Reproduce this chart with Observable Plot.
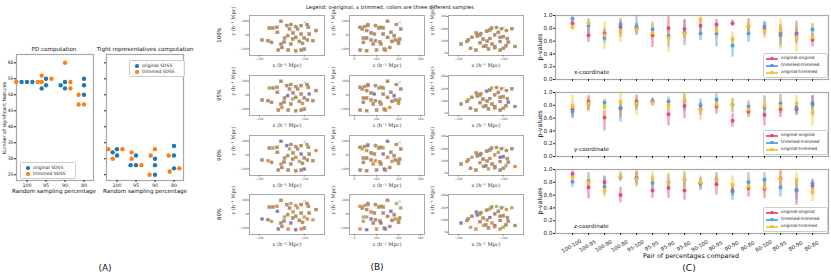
<!DOCTYPE html>
<html><head><meta charset="utf-8">
<script src="https://cdn.jsdelivr.net/npm/d3@7"></script>
<script src="https://cdn.jsdelivr.net/npm/@observablehq/plot@0.6"></script>
<style>
html,body{margin:0;padding:0;background:#fff;}
#root{position:relative;width:831px;height:278px;overflow:hidden;font-family:"DejaVu Sans",sans-serif;}
svg{overflow:visible;}
</style></head><body><div id="root"></div>
<script>
// ---------- Panel A data ----------
const pctCategories = ["100", "95", "90", "80"];
const pdOriginalPct = ["100","100","100","95","95","95","90","90","90","80","80","80"];
const pdOriginal    = [54, 54, 54, 55, 53, 52, 54, 52, 53, 55, 53, 50];
const pdTrimmedPct  = ["100","100","95","95","95","90","90","90","80","80","80"];
const pdTrimmed     = [54, 54, 56, 54, 55, 60, 54, 52, 50, 47, 47];
const tightOriginalPct = ["100","100","100","95","95","95","90","90","90","80","80","80"];
const tightOriginal    = [33, 31, 32, 31, 28, 28, 25, 30, 28, 34, 31, 27];
const tightTrimmedPct  = ["100","100","100","95","95","95","90","90","90","80","80","80"];
const tightTrimmed     = [33, 30, 33, 32, 30, 28, 25, 31, 33, 31, 26, 27];
const yTicksA = [25, 30, 35, 40, 45, 50, 55, 60];

// ---------- Panel B data (galaxy positions, h^-1 Mpc) ----------
const galX = [-194,-181,-173,-178,-170,-161,-152,-158,-152,-150,-144,-139,-137,-136,-133,-130,-130,-126,-119,-119,-119,-115,-111,-107,-107,-107,-104,-100,-100,-99,-94,-93,-91,-89,-81,-74,-160,-125,-145];
const galY = [-72,-82,-106,101,101,111,198,-217,-130,-179,-43,135,-10,-217,87,150,-130,-58,121,-34,-227,87,-92,135,-217,14,-121,-43,-203,184,150,-72,111,14,-82,63,40,30,-100];
const galZ = [75,95,40,110,130,25,150,140,85,160,55,60,180,100,35,190,120,205,45,150,55,210,170,95,25,130,200,40,135,205,60,185,120,90,200,55,165,75,115];
const rowLabels = ["100%", "95%", "90%", "80%"];
const drop100 = [[], [], []];
const drop95 = [[3, 17], [9, 26], [12, 33]];
const drop90 = [[4, 14, 22, 30], [1, 8, 19, 35], [6, 11, 25, 28]];
const drop80 = [[2, 10, 15, 21, 27, 34], [5, 13, 18, 24, 31, 37], [0, 7, 16, 20, 29, 36]];
const trimmedOnly = [29];

// ---------- Panel C data ----------
const pairs = ["100-100","100-95","100-90","100-80","95-100","95-95","95-90","95-80","90-100","90-95","90-90","90-80","80-100","80-95","80-90","80-80"];
const seriesNames = ["original-original", "trimmed-trimmed", "original-trimmed"];
// x-coordinate
const xOOmean = [0.88,0.69,0.72,0.82,0.80,0.69,0.80,0.79,0.84,0.86,0.88,0.83,0.79,0.73,0.72,0.62];
const xOOlo   = [0.83,0.58,0.61,0.66,0.72,0.50,0.64,0.64,0.72,0.77,0.83,0.72,0.69,0.56,0.56,0.51];
const xOOhi   = [0.93,0.82,0.79,0.95,0.88,0.82,0.98,0.94,0.95,0.94,0.93,0.95,0.89,0.86,0.91,0.72];
const xTTmean = [0.95,0.84,0.65,0.86,0.83,0.78,0.68,0.74,0.72,0.72,0.53,0.72,0.83,0.69,0.70,0.78];
const xTTlo   = [0.92,0.72,0.56,0.72,0.69,0.66,0.51,0.53,0.61,0.51,0.35,0.58,0.71,0.51,0.58,0.65];
const xTThi   = [0.98,0.95,0.77,0.91,1.00,0.88,0.82,0.92,0.82,0.84,0.66,0.82,0.91,0.82,0.82,0.87];
const xOTmean = [0.82,0.88,0.69,0.74,0.78,0.73,0.65,0.72,0.94,0.76,0.63,0.83,0.76,0.76,0.66,0.66];
const xOTlo   = [0.76,0.82,0.47,0.58,0.69,0.61,0.43,0.57,0.90,0.64,0.51,0.74,0.64,0.46,0.43,0.57];
const xOThi   = [0.87,0.92,0.90,0.87,0.84,0.90,0.90,0.87,0.98,0.87,0.74,0.90,0.85,0.95,0.87,0.87];
// y-coordinate
const yOOmean = [0.74,0.86,0.61,0.75,0.86,0.86,0.66,0.79,0.74,0.78,0.56,0.70,0.65,0.74,0.74,0.83];
const yOOlo   = [0.61,0.72,0.40,0.60,0.74,0.79,0.48,0.59,0.64,0.66,0.46,0.61,0.48,0.61,0.64,0.72];
const yOOhi   = [0.82,0.95,0.71,0.85,0.95,0.91,0.77,0.90,0.84,0.88,0.66,0.79,0.74,0.84,0.84,0.95];
const yTTmean = [0.70,0.82,0.84,0.76,0.82,0.86,0.86,0.87,0.80,0.89,0.81,0.78,0.76,0.83,0.76,0.81];
const yTTlo   = [0.59,0.72,0.74,0.54,0.72,0.80,0.77,0.71,0.71,0.79,0.69,0.69,0.64,0.66,0.66,0.63];
const yTThi   = [0.79,0.90,0.89,0.88,0.90,0.91,0.93,0.98,0.90,0.98,0.90,0.87,0.95,0.97,0.85,0.95];
const yOTmean = [0.78,0.83,0.78,0.85,0.83,0.84,0.80,0.87,0.73,0.81,0.81,0.74,0.79,0.79,0.83,0.69];
const yOTlo   = [0.66,0.69,0.64,0.64,0.64,0.79,0.69,0.77,0.56,0.71,0.66,0.61,0.64,0.66,0.71,0.48];
const yOThi   = [0.96,0.95,0.90,0.99,0.97,0.89,0.90,1.00,0.82,0.91,0.91,0.86,0.92,0.92,0.95,0.82];
// z-coordinate
const zOOmean = [0.93,0.72,0.80,0.60,0.86,0.67,0.71,0.67,0.78,0.77,0.67,0.71,0.70,0.86,0.67,0.75];
const zOOlo   = [0.86,0.54,0.70,0.48,0.75,0.55,0.55,0.52,0.70,0.60,0.58,0.57,0.55,0.72,0.44,0.62];
const zOOhi   = [0.98,0.83,0.90,0.72,0.97,0.78,0.83,0.80,0.85,0.88,0.78,0.82,0.82,0.98,0.82,0.83];
const zTTmean = [0.81,0.82,0.73,0.88,0.87,0.79,0.80,0.84,0.78,0.84,0.65,0.80,0.84,0.72,0.68,0.78];
const zTTlo   = [0.72,0.70,0.60,0.82,0.77,0.70,0.70,0.72,0.67,0.75,0.52,0.70,0.72,0.57,0.52,0.68];
const zTThi   = [0.88,0.95,0.88,0.95,0.95,0.90,0.92,0.95,0.87,0.95,0.78,0.95,0.95,0.83,0.83,0.85];
const zOTmean = [0.88,0.80,0.68,0.89,0.85,0.85,0.80,0.84,0.80,0.84,0.76,0.74,0.72,0.85,0.84,0.64];
const zOTlo   = [0.80,0.70,0.57,0.80,0.72,0.72,0.70,0.70,0.72,0.70,0.60,0.62,0.60,0.72,0.68,0.50];
const zOThi   = [0.95,0.90,0.80,0.97,1.00,0.97,0.95,1.00,0.90,0.95,0.90,0.87,0.87,0.97,0.95,0.77];
const pTicks = [0, 0.2, 0.4, 0.6, 0.8, 1.0];

// ---------- helpers ----------
const root = document.getElementById("root");
const FONT = "DejaVu Sans";
const SERIF = "DejaVu Serif";
function put(node, left, top) {
  const d = document.createElement("div");
  d.style.cssText = `position:absolute;left:${left}px;top:${top}px;`;
  d.appendChild(node);
  root.appendChild(d);
}
function txt(s, x, y, {size = 6, rot = 0, family = FONT, color = "#111"} = {}) {
  const d = document.createElement("div");
  d.textContent = s;
  d.style.cssText = `position:absolute;left:${x}px;top:${y}px;font-size:${size}px;font-family:'${family}';color:${color};white-space:nowrap;line-height:1;transform:translate(-50%,-50%) rotate(${rot}deg);`;
  root.appendChild(d);
}
const frameStroke = "#a8a8a8";
const svgStyle = {fontFamily: FONT, background: "transparent", overflow: "visible", color: "#222"};

// ---------- Panel A ----------
const colA = {original: "#1f77b4", trimmed: "#ff7f0e"};
function swarm(orig, origPct, trim, trimPct, frameLeft, showYLabels) {
  const ml = showYLabels ? 16 : 2, frameW = 77;
  const common = {width: ml + frameW + 2, height: 156, marginLeft: ml, marginRight: 2, marginTop: 10, marginBottom: 20, style: svgStyle};
  const yScale = {domain: [23.2, 62.6], axis: null};
  const base = Plot.plot({
    ...common,
    x: {type: "band", domain: pctCategories, padding: 0, axis: null},
    y: yScale,
    marks: [
      Plot.frame({stroke: frameStroke, strokeWidth: 1.2}),
      Plot.axisY({ticks: yTicksA, tickSize: 2, tickPadding: 1, fontSize: 4.6, label: null, tickFormat: showYLabels ? (d => d) : (() => "")}),
      Plot.axisX({tickSize: 2, tickPadding: 1, fontSize: 4.8, label: null})
    ]
  });
  const data = [];
  pctCategories.forEach(c => {
    orig.forEach((v, i) => { if (origPct[i] === c) data.push({pct: c, value: v, color: colA.original}); });
    trim.forEach((v, i) => { if (trimPct[i] === c) data.push({pct: c, value: v, color: colA.trimmed}); });
  });
  const dots = Plot.plot({
    ...common,
    fx: {domain: pctCategories, padding: 0, axis: null},
    y: yScale,
    color: {type: "identity"},
    marks: [Plot.dot(data, Plot.dodgeX("middle", {fx: "pct", y: "value", fill: "color", r: 2.2, padding: 0.1}))]
  });
  put(base, frameLeft - ml, 44);
  put(dots, frameLeft - ml, 44);
}
swarm(pdOriginal, pdOriginalPct, pdTrimmed, pdTrimmedPct, 16, true);
swarm(tightOriginal, tightOriginalPct, tightTrimmed, tightTrimmedPct, 106, false);
txt("PD computation", 54, 50, {size: 5.6});
txt("Tight representatives computation", 145, 50, {size: 5.6});
txt("Random sampling percentage", 54, 192, {size: 5.6});
txt("Random sampling percentage", 145, 192, {size: 5.6});
txt("Number of significant features", 5, 118, {size: 4.8, rot: -90});
function legendA(left, top) {
  const box = document.createElement("div");
  box.style.cssText = `position:absolute;left:${left}px;top:${top}px;width:54px;height:15px;border:0.6px solid #ccc;border-radius:1.5px;background:rgba(255,255,255,0.85);`;
  [["original SDSS", colA.original], ["trimmed SDSS", colA.trimmed]].forEach(([t, c], i) => {
    const dot = document.createElement("div");
    dot.style.cssText = `position:absolute;left:5px;top:${3 + i * 6}px;width:3.6px;height:3.6px;border-radius:50%;background:${c};`;
    const lab = document.createElement("div");
    lab.textContent = t;
    lab.style.cssText = `position:absolute;left:12px;top:${2.6 + i * 6}px;font-size:4.5px;line-height:1;font-family:'${FONT}';white-space:nowrap;color:#222;`;
    box.appendChild(dot); box.appendChild(lab);
  });
  root.appendChild(box);
}
legendA(20, 162);
legendA(129, 60);
txt("(A)", 105, 268, {size: 9});

// ---------- Panel B ----------
const sampleColors = ["#d6336c", "#3d8fd6", "#e5ad1a"];
const rowDrops = [drop100, drop95, drop90, drop80];
const colLefts = [249, 349, 448];
const rowTops = [15, 75, 135, 194];
const projections = [
  {xs: galX, ys: galY, xd: [-222, -55], yd: [-295, 280], xt: [-200, -100], yt: [-200, 0, 200], xl: "x (h⁻¹ Mpc)", yl: "y (h⁻¹ Mpc)"},
  {xs: galZ, ys: galY, xd: [-23, 318], yd: [-295, 280], xt: [0, 100, 200, 300], yt: [-200, 0, 200], xl: "z (h⁻¹ Mpc)", yl: "y (h⁻¹ Mpc)"},
  {xs: galX, ys: galZ, xd: [-222, -55], yd: [-19, 308], xt: [-200, -100], yt: [0, 100, 200, 300], xl: "x (h⁻¹ Mpc)", yl: "z (h⁻¹ Mpc)"}
];
function galaxyPlot(r, c) {
  const p = projections[c];
  const marks = [
    Plot.frame({stroke: frameStroke, strokeWidth: 1}),
    Plot.axisX({ticks: p.xt, tickSize: 1.5, tickPadding: 0.5, fontSize: 3, fill: "#555", stroke: "#777", label: null}),
    Plot.axisY({ticks: p.yt, tickSize: 1.5, tickPadding: 0.5, fontSize: 3, fill: "#555", stroke: "#777", label: null})
  ];
  sampleColors.forEach((col, s) => {
    const drops = rowDrops[r][s];
    const idx = galX.map((_, i) => i).filter(i => !drops.includes(i) && !trimmedOnly.includes(i));
    marks.push(Plot.dot(idx, {x: i => p.xs[i], y: i => p.ys[i], fill: col, fillOpacity: 0.55, r: 1.8}));
  });
  sampleColors.forEach((col, s) => {
    const drops = rowDrops[r][s];
    const idx = galX.map((_, i) => i).filter(i => !drops.includes(i) && (s === 1 || !trimmedOnly.includes(i)));
    marks.push(Plot.dot(idx, {x: i => p.xs[i], y: i => p.ys[i], stroke: col, strokeOpacity: 0.45, strokeWidth: 0.8, symbol: "times", r: 1.6}));
  });
  marks.push(Plot.text([p.xl], {text: d => d, frameAnchor: "bottom", dy: 11, fontSize: 5, fontFamily: SERIF, fill: "#333"}));
  marks.push(Plot.text([p.yl], {text: d => d, frameAnchor: "left", dx: -16, rotate: -90, fontSize: 5, fontFamily: SERIF, fill: "#333"}));
  const ml = 24, mt = 2;
  const plot = Plot.plot({
    width: ml + 75 + 2, height: mt + 40 + 16, marginLeft: ml, marginRight: 2, marginTop: mt, marginBottom: 16,
    style: svgStyle,
    x: {domain: p.xd, axis: null},
    y: {domain: p.yd, axis: null},
    marks
  });
  put(plot, colLefts[c] - ml, rowTops[r] - mt);
}
for (let r = 0; r < 4; r++) {
  for (let c = 0; c < 3; c++) galaxyPlot(r, c);
  txt(rowLabels[r], 220, rowTops[r] + 20, {size: 5.4, rot: -90});
}
txt("Legend: o original, x trimmed, colors are three different samples", 390, 8, {size: 5.2});
txt("(B)", 377, 267, {size: 9});

// ---------- Panel C ----------
const seriesColors = ["#e8457a", "#4a9ee6", "#fbbf24"];
const coordSets = [
  {name: "x-coordinate", s: [[xOOmean, xOOlo, xOOhi], [xTTmean, xTTlo, xTThi], [xOTmean, xOTlo, xOThi]]},
  {name: "y-coordinate", s: [[yOOmean, yOOlo, yOOhi], [yTTmean, yTTlo, yTThi], [yOTmean, yOTlo, yOThi]]},
  {name: "z-coordinate", s: [[zOOmean, zOOlo, zOOhi], [zTTmean, zTTlo, zTThi], [zOTmean, zOTlo, zOThi]]}
];
const cTops = [15, 92, 169];
coordSets.forEach((cs, k) => {
  const bottom = k === 2;
  const ml = 24, mt = 2, mb = bottom ? 30 : 6;
  const marks = [
    Plot.frame({stroke: frameStroke, strokeWidth: 1.2}),
    Plot.axisY({ticks: pTicks, tickFormat: ".1f", tickSize: 2, tickPadding: 1, fontSize: 5.6, label: null}),
    Plot.axisX({tickSize: 2, tickFormat: () => "", label: null})
  ];
  const seriesRows = cs.s.map(([m, lo, hi]) => pairs.map((p, i) => ({pair: p, mean: m[i], lo: lo[i], hi: hi[i]})));
  seriesRows.forEach((rows, j) => {
    marks.push(Plot.ruleX(rows, {x: "pair", y1: "lo", y2: "hi", stroke: seriesColors[j], strokeWidth: 2.4, strokeOpacity: 0.5}));
  });
  seriesRows.forEach((rows, j) => {
    marks.push(Plot.dot(rows, {x: "pair", y: "mean", fill: seriesColors[j], fillOpacity: 0.95, r: 2}));
  });
  if (bottom) marks.push(Plot.text(pairs, {x: d => d, text: d => d, frameAnchor: "bottom", dy: 14, rotate: -30, fontSize: 5.2, fill: "#222"}));
  const plot = Plot.plot({
    width: ml + 273 + 3, height: mt + 64 + mb, marginLeft: ml, marginRight: 3, marginTop: mt, marginBottom: mb,
    style: svgStyle,
    x: {type: "point", domain: pairs, padding: 0.755, axis: null},
    y: {domain: [0, 1], axis: null},
    marks
  });
  put(plot, 555 - ml, cTops[k] - mt);
  txt("p-values", 540, cTops[k] + 32, {size: 6.4, rot: -90});
  const lab = document.createElement("div");
  lab.textContent = cs.name;
  lab.style.cssText = `position:absolute;left:574px;top:${cTops[k] + 55}px;font-size:5.6px;line-height:1;font-family:'${FONT}';color:#111;white-space:nowrap;`;
  root.appendChild(lab);
  const box = document.createElement("div");
  box.style.cssText = `position:absolute;left:763px;top:${cTops[k] + 38}px;width:63px;height:23px;border:0.6px solid #ccc;border-radius:1.5px;background:rgba(255,255,255,0.85);`;
  seriesNames.forEach((t, j) => {
    const y = 4.5 + j * 7;
    const line = document.createElement("div");
    line.style.cssText = `position:absolute;left:2px;top:${y - 1}px;width:12px;height:2.2px;background:${seriesColors[j]};opacity:0.85;`;
    const dot = document.createElement("div");
    dot.style.cssText = `position:absolute;left:6.3px;top:${y - 1.6}px;width:3.4px;height:3.4px;border-radius:50%;background:${seriesColors[j]};`;
    const l = document.createElement("div");
    l.textContent = t;
    l.style.cssText = `position:absolute;left:17px;top:${y - 2.1}px;font-size:4.3px;line-height:1;font-family:'${FONT}';white-space:nowrap;color:#222;`;
    box.appendChild(line); box.appendChild(dot); box.appendChild(l);
  });
  root.appendChild(box);
});
txt("Pair of percentages compared", 691, 256, {size: 6.4});
txt("(C)", 689, 268, {size: 9});
</script></body></html>
